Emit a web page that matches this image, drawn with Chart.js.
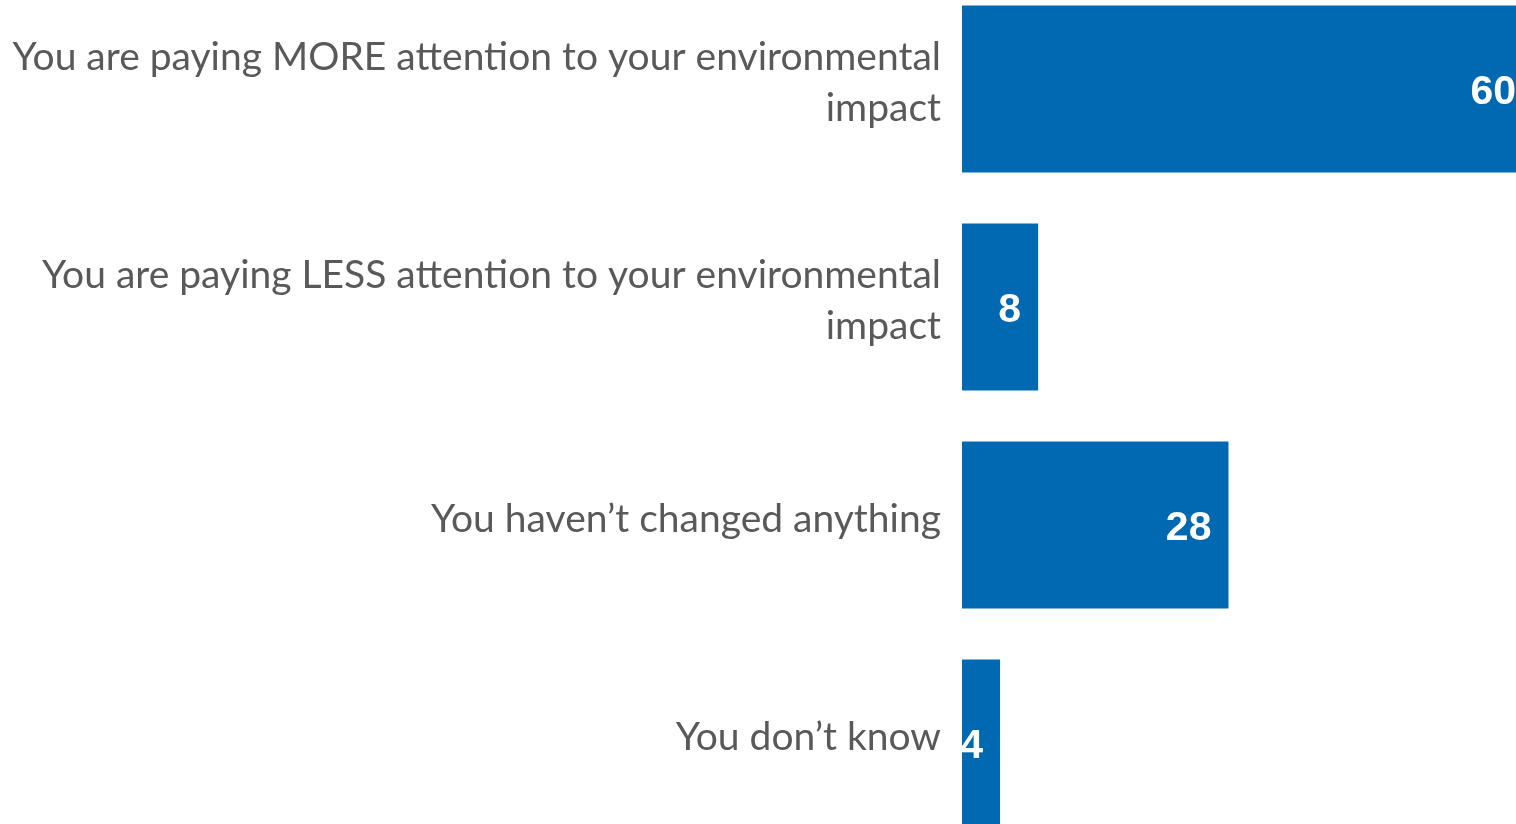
<!DOCTYPE html>
<html>
<head>
<meta charset="utf-8">
<script src="https://cdn.jsdelivr.net/npm/chart.js@4.4.1/dist/chart.umd.min.js"></script>
<style>
  html, body { margin: 0; padding: 0; background: #fff; overflow: hidden; width: 1516px; height: 824px; }
  #wrap { position: absolute; left: 0; top: -20px; width: 1533px; height: 872px; }
</style>
</head>
<body>
<div id="wrap"><canvas id="chart"></canvas></div>
<script>
const categories = [
  ['You are paying MORE attention to your environmental', 'impact'],
  ['You are paying LESS attention to your environmental', 'impact'],
  'You haven\u2019t changed anything',
  'You don\u2019t know',
];
const shares = [60, 8, 28, 4];

const barColor = '#0169b2';
const textColor = '#595959';

// white value labels right-aligned inside the end of each bar
const valueLabels = {
  id: 'valueLabels',
  afterDatasetsDraw(chart) {
    const { ctx } = chart;
    const meta = chart.getDatasetMeta(0);
    ctx.save();
    ctx.fillStyle = '#ffffff';
    ctx.font = 'bold 41px "Liberation Sans", Arial, sans-serif';
    ctx.textAlign = 'right';
    ctx.textBaseline = 'middle';
    meta.data.forEach((bar, index) => {
      ctx.fillText(String(shares[index]), bar.x - 17, bar.y + 4);
    });
    ctx.restore();
  },
};

new Chart(document.getElementById('chart'), {
  type: 'bar',
  data: {
    labels: categories,
    datasets: [{ data: shares, backgroundColor: barColor, borderWidth: 0, barPercentage: 0.766, categoryPercentage: 1 }],
  },
  plugins: [valueLabels],
  options: {
    indexAxis: 'y',
    responsive: true,
    maintainAspectRatio: false,
    animation: false,
    layout: { padding: 0 },
    plugins: { legend: { display: false }, tooltip: { enabled: false } },
    scales: {
      x: { display: false, min: 0, max: 60 },
      y: {
        grid: { display: false, drawTicks: false },
        border: { display: false },
        ticks: {
          autoSkip: false,
          color: textColor,
          padding: 21,
          labelOffset: -6,
          font: { family: 'Lato', size: 39, lineHeight: 1.31 },
        },
        afterFit(scale) {
          scale.width = 962;
          scale.paddingTop = 0;
          scale.paddingBottom = 0;
        },
      },
    },
  },
});
</script>
</body>
</html>
